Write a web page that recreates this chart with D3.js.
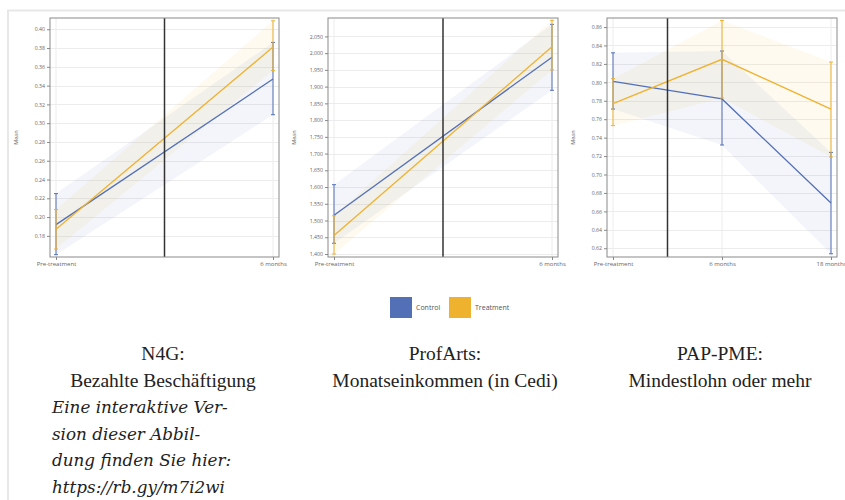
<!DOCTYPE html>
<html>
<head>
<meta charset="utf-8">
<script src="https://cdn.jsdelivr.net/npm/d3@7"></script>
<style>
  body { margin: 0; background: #fff; }
  svg { display: block; }
</style>
</head>
<body>
<svg id="chart" width="845" height="500"></svg>
<script>
// N4G: paid employment
var n4gCategories = ['Pre-treatment', '6 months'];
var n4gControl = [0.192, 0.347];
var n4gControlLow = [0.160, 0.309];
var n4gControlHigh = [0.225, 0.386];
var n4gTreatment = [0.187, 0.381];
var n4gTreatmentLow = [0.166, 0.356];
var n4gTreatmentHigh = [0.208, 0.409];
var n4gTicks = [0.18, 0.20, 0.22, 0.24, 0.26, 0.28, 0.30, 0.32, 0.34, 0.36, 0.38, 0.40];

// ProfArts: monthly income (Cedi)
var profCategories = ['Pre-treatment', '6 months'];
var profControl = [1516, 1988];
var profControlLow = [1432, 1889];
var profControlHigh = [1607, 2086];
var profTreatment = [1455, 2019];
var profTreatmentLow = [1400, 1950];
var profTreatmentHigh = [1514, 2098];
var profTicks = [1400, 1450, 1500, 1550, 1600, 1650, 1700, 1750, 1800, 1850, 1900, 1950, 2000, 2050];

// PAP-PME: minimum wage or more
var papCategories = ['Pre-treatment', '6 months', '18 months'];
var papControl = [0.801, 0.782, 0.669];
var papControlLow = [0.771, 0.732, 0.614];
var papControlHigh = [0.832, 0.834, 0.724];
var papTreatment = [0.777, 0.825, 0.771];
var papTreatmentLow = [0.753, 0.783, 0.719];
var papTreatmentHigh = [0.804, 0.867, 0.822];
var papTicks = [0.62, 0.64, 0.66, 0.68, 0.70, 0.72, 0.74, 0.76, 0.78, 0.80, 0.82, 0.84, 0.86];

var legendLabels = ['Control', 'Treatment'];
var captionTitles = [['N4G:', 'Bezahlte Beschäftigung'], ['ProfArts:', 'Monatseinkommen (in Cedi)'], ['PAP-PME:', 'Mindestlohn oder mehr']];
var noteLines = ['Eine interaktive Ver-', 'sion dieser Abbil-', 'dung finden Sie hier:', 'https://rb.gy/m7i2wi'];

var colors = {control: '#5370b6', treatment: '#efb22f'};

var svg = d3.select('#chart');
var plotTop = 18, plotBottom = 257;

svg.append('rect').attr('width', 845).attr('height', 500).attr('fill', '#fff');
// page frame
svg.append('line').attr('x1', 7).attr('x2', 845).attr('y1', 10.5).attr('y2', 10.5)
  .attr('stroke', '#e8e8e8').attr('stroke-width', 2);
svg.append('line').attr('x1', 8).attr('x2', 8).attr('y1', 10).attr('y2', 500)
  .attr('stroke', '#e8e8e8').attr('stroke-width', 2);

var panels = [
  {left: 50, right: 279, cats: n4gCategories, domain: [0.1575, 0.412], ticks: n4gTicks, fmt: d3.format('.2f'),
    control: [n4gControl, n4gControlLow, n4gControlHigh], treatment: [n4gTreatment, n4gTreatmentLow, n4gTreatmentHigh]},
  {left: 328, right: 558, cats: profCategories, domain: [1391, 2105], ticks: profTicks, fmt: d3.format(',.0f'),
    control: [profControl, profControlLow, profControlHigh], treatment: [profTreatment, profTreatmentLow, profTreatmentHigh]},
  {left: 607, right: 837, cats: papCategories, domain: [0.6105, 0.8698], ticks: papTicks, fmt: d3.format('.2f'),
    control: [papControl, papControlLow, papControlHigh], treatment: [papTreatment, papTreatmentLow, papTreatmentHigh]}
];

function toRows(cats, s) {
  return cats.map(function(c, i) {
    return {cat: c, mean: s[0][i], lo: s[1][i], hi: s[2][i]};
  });
}

panels.forEach(function(p) {
  var g = svg.append('g');
  var x = d3.scalePoint().domain(p.cats).range([p.left + 6, p.right - 6]);
  var y = d3.scaleLinear().domain(p.domain).range([plotBottom, plotTop]);
  var series = [
    {col: colors.control, rows: toRows(p.cats, p.control)},
    {col: colors.treatment, rows: toRows(p.cats, p.treatment)}
  ];

  // grid
  g.append('g').selectAll('line').data(p.ticks).enter().append('line')
    .attr('x1', p.left).attr('x2', p.right)
    .attr('y1', function(d) { return Math.round(y(d)) + 0.5; })
    .attr('y2', function(d) { return Math.round(y(d)) + 0.5; })
    .attr('stroke', '#ececec').attr('stroke-width', 1);
  g.append('g').selectAll('line').data(p.cats).enter().append('line')
    .attr('x1', function(d) { return x(d); }).attr('x2', function(d) { return x(d); })
    .attr('y1', plotTop).attr('y2', plotBottom)
    .attr('stroke', '#ececec').attr('stroke-width', 1);

  // confidence bands
  series.forEach(function(s) {
    g.append('path').datum(s.rows)
      .attr('d', d3.area()
        .x(function(d) { return x(d.cat); })
        .y0(function(d) { return y(d.lo); })
        .y1(function(d) { return y(d.hi); }))
      .attr('fill', s.col).attr('fill-opacity', 0.07);
  });

  // mean lines + error bars
  series.forEach(function(s) {
    g.append('path').datum(s.rows)
      .attr('d', d3.line()
        .x(function(d) { return x(d.cat); })
        .y(function(d) { return y(d.mean); }))
      .attr('fill', 'none').attr('stroke', s.col).attr('stroke-width', 1.3);
    var eb = g.append('g').selectAll('g').data(s.rows).enter().append('g')
      .attr('stroke', s.col).attr('stroke-width', 1);
    eb.append('line')
      .attr('x1', function(d) { return x(d.cat); }).attr('x2', function(d) { return x(d.cat); })
      .attr('y1', function(d) { return y(d.lo); }).attr('y2', function(d) { return y(d.hi); });
    eb.append('line')
      .attr('x1', function(d) { return x(d.cat) - 2; }).attr('x2', function(d) { return x(d.cat) + 2; })
      .attr('y1', function(d) { return y(d.lo); }).attr('y2', function(d) { return y(d.lo); });
    eb.append('line')
      .attr('x1', function(d) { return x(d.cat) - 2; }).attr('x2', function(d) { return x(d.cat) + 2; })
      .attr('y1', function(d) { return y(d.hi); }).attr('y2', function(d) { return y(d.hi); });
  });

  // treatment start marker
  var sep = (x(p.cats[0]) + x(p.cats[1])) / 2;
  g.append('line').attr('x1', sep).attr('x2', sep).attr('y1', plotTop).attr('y2', plotBottom)
    .attr('stroke', '#333').attr('stroke-width', 1.5);

  // frame
  g.append('rect').attr('x', p.left).attr('y', plotTop)
    .attr('width', p.right - p.left).attr('height', plotBottom - plotTop)
    .attr('fill', 'none').attr('stroke', '#8a8a8a').attr('stroke-width', 1);

  // axes
  var yAxis = g.append('g').attr('transform', 'translate(' + p.left + ',0)')
    .call(d3.axisLeft(y).tickValues(p.ticks).tickFormat(p.fmt).tickSize(3).tickPadding(2));
  var xAxis = g.append('g').attr('transform', 'translate(0,' + plotBottom + ')')
    .call(d3.axisBottom(x).tickSize(3).tickPadding(2));
  [yAxis, xAxis].forEach(function(a) {
    a.select('.domain').remove();
    a.selectAll('line').attr('stroke', '#888');
    a.selectAll('text').attr('fill', '#666').style('font-family', 'Open Sans, sans-serif');
  });
  yAxis.selectAll('text').style('font-size', '5.2px');
  xAxis.selectAll('text').style('font-size', '6px');

  g.append('text')
    .attr('transform', 'translate(' + (p.left - 32) + ',' + ((plotTop + plotBottom) / 2) + ') rotate(-90)')
    .attr('text-anchor', 'middle')
    .style('font-family', 'Open Sans, sans-serif').style('font-size', '5.5px')
    .attr('fill', '#666').text('Mean');
});

// legend
var legend = svg.append('g');
var legendX = [390, 449];
legendLabels.forEach(function(l, i) {
  legend.append('rect').attr('x', legendX[i]).attr('y', 297).attr('width', 22).attr('height', 21)
    .attr('fill', i === 0 ? colors.control : colors.treatment);
  legend.append('text').attr('x', legendX[i] + 26).attr('y', 310)
    .style('font-family', 'Open Sans, sans-serif').style('font-size', '7px')
    .attr('fill', '#555').text(l);
});

// captions
var captionX = [163, 445, 720];
captionTitles.forEach(function(t, i) {
  svg.append('g').selectAll('text').data(t).enter().append('text')
    .attr('x', captionX[i])
    .attr('y', function(d, j) { return 360 + j * 27; })
    .attr('text-anchor', 'middle')
    .style('font-family', 'Liberation Serif, serif').style('font-size', '19.5px')
    .attr('fill', '#222').text(function(d) { return d; });
});

svg.append('g').selectAll('text').data(noteLines).enter().append('text')
  .attr('x', 52)
  .attr('y', function(d, i) { return 413 + i * 26.7; })
  .style('font-family', 'DejaVu Serif, serif').style('font-style', 'italic').style('font-size', '16.8px')
  .attr('fill', '#222').text(function(d) { return d; });
</script>
</body>
</html>
